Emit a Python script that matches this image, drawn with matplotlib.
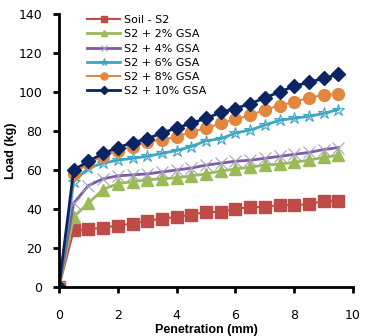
import numpy as np
import matplotlib.pyplot as plt

# penetration (mm)
pen = np.arange(0, 10, 0.5)

soil = [0, 29, 29.5, 30.5, 31.5, 32.5, 34, 35, 36, 37,
        38.5, 38.5, 40, 41, 41, 42, 42, 42.5, 44, 44]
gsa2 = [0, 36, 43, 50, 53, 54, 55, 55.5, 56, 57,
        58, 59.5, 60.5, 61.5, 62.5, 63, 64, 65, 66.5, 67.5]
gsa4 = [0, 43, 52, 55.5, 57, 57.5, 58, 59, 60, 61,
        62.5, 63.5, 64.5, 65, 66, 67, 68, 69, 70.5, 71.5]
gsa6 = [0, 54, 61, 63.5, 65, 66, 67, 68.5, 70, 72,
        75, 76, 79, 80.5, 83, 85.5, 86.5, 87.5, 89, 91]
gsa8 = [0, 58, 63.5, 67, 70, 72, 74.5, 75.5, 77, 79.5,
        81.5, 84, 86, 88, 91, 93, 95, 97, 98.5, 99]
gsa10 = [0, 60, 64.5, 68.5, 71.5, 74, 76, 79, 81.5, 84,
         86.5, 89.5, 91.5, 94, 97, 100, 103, 105, 107, 109]

labels = ["Soil - S2", "S2 + 2% GSA", "S2 + 4% GSA",
          "S2 + 6% GSA", "S2 + 8% GSA", "S2 + 10% GSA"]

fig = plt.figure(figsize=(3.7, 3.36), dpi=100)
ax = fig.add_axes([59/370, 1-287/336, 294/370, 273/336])

ax.plot(pen, soil, color="#BE4B48", lw=1.5, marker="s", ms=8, label=labels[0])
ax.plot(pen, gsa2, color="#9BBB59", lw=2, marker="^", ms=8, label=labels[1])
ax.plot(pen, gsa4, color="#7B5EA0", lw=2, marker="x", ms=8, mec="#A99BC8",
        mew=0.8, label=labels[2])
ax.plot(pen, gsa6, color="#3FA6C2", lw=2, marker="*", ms=9, mec="#3FA6C2",
        mfc="none", mew=0.8, label=labels[3])
ax.plot(pen, gsa8, color="#E3873E", lw=1.5, marker="o", ms=8.5, label=labels[4])
ax.plot(pen, gsa10, color="#0B2463", lw=2, marker="D", ms=7, label=labels[5])

ax.set_xlim(0, 10)
ax.set_ylim(0, 140)
ax.set_xticks([0, 2, 4, 6, 8, 10])
ax.set_yticks(range(0, 141, 20))

for s in ["top", "right"]:
    ax.spines[s].set_visible(False)
for s in ["left", "bottom"]:
    ax.spines[s].set_linewidth(2)
ax.tick_params(axis="both", direction="out", length=4, width=2, labelsize=9)
ax.tick_params(axis="x", pad=12)
ax.tick_params(axis="y", pad=8)

ax.set_xlabel("Penetration (mm)", fontfamily="Liberation Sans", fontweight="bold",
              fontsize=9, labelpad=1)
ax.set_ylabel("Load (kg)", fontfamily="Liberation Sans", fontweight="bold",
              fontsize=9, labelpad=1)

ax.legend(loc="upper left", bbox_to_anchor=(0.095, 0.996), frameon=False,
          fontsize=8, borderpad=0, borderaxespad=0, labelspacing=0.38,
          handlelength=3.0, handletextpad=0.3, markerscale=0.6)

fig.savefig("out.png", dpi=100)
